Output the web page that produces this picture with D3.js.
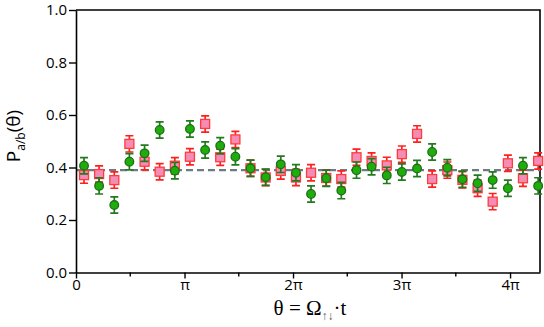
<!DOCTYPE html>
<html>
<head>
<meta charset="utf-8">
<script src="https://cdn.jsdelivr.net/npm/d3@7"></script>
<style>
  body { margin: 0; background: #fff; }
  svg { display: block; }
</style>
</head>
<body>
<div id="chart"></div>
<script>
// theta in units of pi
const theta = [0.074, 0.213, 0.353, 0.492, 0.632, 0.771, 0.911, 1.050, 1.190, 1.329,
  1.469, 1.608, 1.748, 1.887, 2.027, 2.166, 2.306, 2.445, 2.585, 2.724,
  2.864, 3.003, 3.143, 3.282, 3.422, 3.561, 3.701, 3.840, 3.980, 4.119, 4.259]

const pinkVals = [0.371, 0.375, 0.352, 0.490, 0.422, 0.384, 0.407, 0.441, 0.566, 0.439,
  0.507, 0.397, 0.362, 0.387, 0.362, 0.380, 0.360, 0.356, 0.439, 0.425,
  0.408, 0.451, 0.528, 0.356, 0.390, 0.353, 0.321, 0.270, 0.416, 0.359, 0.425]

const greenVals = [0.407, 0.330, 0.257, 0.422, 0.454, 0.543, 0.388, 0.547, 0.467, 0.483,
  0.441, 0.397, 0.363, 0.412, 0.380, 0.299, 0.359, 0.312, 0.390, 0.403,
  0.370, 0.383, 0.396, 0.459, 0.399, 0.355, 0.340, 0.352, 0.321, 0.407, 0.330]

const pinkErr = 0.031
const greenErr = 0.031
const meanLevel = 0.39

const xTicks = [0, 1, 2, 3, 4]
const xTickLabels = ["0", "π", "2π", "3π", "4π"]
const xMinor = [0.5, 1.5, 2.5, 3.5]
const yTicks = [0, 0.2, 0.4, 0.6, 0.8, 1.0]

var width = 544
var height = 327
var margin = ({ top: 10, right: 4, bottom: 54.5, left: 76 })

var x = d3.scaleLinear()
  .domain([0, 4.276])
  .range([margin.left, width - margin.right])

var y = d3.scaleLinear()
  .domain([0, 1])
  .range([height - margin.bottom, margin.top])

var svg = d3.select("#chart").append("svg")
  .attr("width", width)
  .attr("height", height)
  .style("font-family", "'Open Sans', sans-serif")

// frame top/right
svg.append("path")
  .attr("d", `M${x(0)},${y(1)}H${x.range()[1]}V${y(0)}`)
  .attr("fill", "none")
  .attr("stroke", "#000")
  .attr("stroke-width", 1.6)

// dashed mean line
svg.append("line")
  .attr("x1", x(0)).attr("x2", x.range()[1])
  .attr("y1", y(meanLevel)).attr("y2", y(meanLevel))
  .attr("stroke", "#6d7c84")
  .attr("stroke-width", 2.2)
  .attr("stroke-dasharray", "7,4")

// x axis
svg.append("g")
  .attr("transform", `translate(0,${y(0)})`)
  .call(d3.axisBottom(x).tickValues(xTicks).tickSize(6).tickSizeOuter(0)
    .tickFormat((d, i) => xTickLabels[i]))
  .call(g => g.select(".domain").attr("stroke-width", 1.6))
  .call(g => g.selectAll(".tick line").attr("stroke-width", 1.4))
  .call(g => g.selectAll(".tick text").attr("font-size", 15).attr("fill", "#000")
    .attr("font-family", "'Open Sans', sans-serif").attr("dy", "0.55em"))

svg.append("g")
  .attr("transform", `translate(0,${y(0)})`)
  .selectAll("line")
  .data(xMinor)
  .join("line")
  .attr("x1", d => x(d)).attr("x2", d => x(d))
  .attr("y1", 0).attr("y2", 4)
  .attr("stroke", "#000")
  .attr("stroke-width", 1.4)

// y axis
svg.append("g")
  .attr("transform", `translate(${x(0)},0)`)
  .call(d3.axisLeft(y).tickValues(yTicks).tickSize(7).tickSizeOuter(0)
    .tickFormat(d3.format(".1f")))
  .call(g => g.select(".domain").attr("stroke-width", 1.6))
  .call(g => g.selectAll(".tick line").attr("stroke-width", 1.4))
  .call(g => g.selectAll(".tick text").attr("font-size", 15).attr("fill", "#000")
    .attr("font-family", "'Open Sans', sans-serif").attr("x", -9))

// error bars + markers
function errorBars(vals, err, color) {
  var g = svg.append("g").attr("stroke", color).attr("stroke-width", 1.7)
  g.selectAll("path")
    .data(vals)
    .join("path")
    .attr("fill", "none")
    .attr("d", (d, i) => {
      var cx = x(theta[i]), y0 = y(d - err), y1 = y(d + err)
      return `M${cx - 4},${y0}H${cx + 4}M${cx},${y0}V${y1}M${cx - 4},${y1}H${cx + 4}`
    })
}

errorBars(pinkVals, pinkErr, "#ff1f1f")
svg.append("g")
  .selectAll("rect")
  .data(pinkVals)
  .join("rect")
  .attr("x", (d, i) => x(theta[i]) - 4.5)
  .attr("y", d => y(d) - 4.5)
  .attr("width", 9)
  .attr("height", 9)
  .attr("fill", "#f48cb6")
  .attr("stroke", "#ff3b3b")
  .attr("stroke-width", 1.3)

errorBars(greenVals, greenErr, "#237a1e")
svg.append("g")
  .selectAll("circle")
  .data(greenVals)
  .join("circle")
  .attr("cx", (d, i) => x(theta[i]))
  .attr("cy", d => y(d))
  .attr("r", 4.3)
  .attr("fill", "#1fad0b")
  .attr("stroke", "#1c6e17")
  .attr("stroke-width", 1.3)

// y label
var yl = svg.append("text")
  .attr("transform", `translate(20,${y(0.52)}) rotate(-90)`)
  .attr("text-anchor", "middle")
  .attr("font-size", 19)
  .attr("fill", "#000")
yl.append("tspan").text("P")
yl.append("tspan").attr("font-size", 12).attr("dy", 5).text("a/b")
yl.append("tspan").attr("dy", -5).text("(θ)")

// x label
var xl = svg.append("text")
  .attr("x", 310)
  .attr("y", 315)
  .attr("text-anchor", "middle")
  .attr("font-family", "'Liberation Serif', serif")
  .attr("font-size", 21)
  .attr("fill", "#000")
xl.append("tspan").text("θ = Ω")
xl.append("tspan").attr("font-size", 12).attr("dy", 5).attr("fill", "#555").text("↑↓")
xl.append("tspan").attr("dy", -5).text("·t")
</script>
</body>
</html>
